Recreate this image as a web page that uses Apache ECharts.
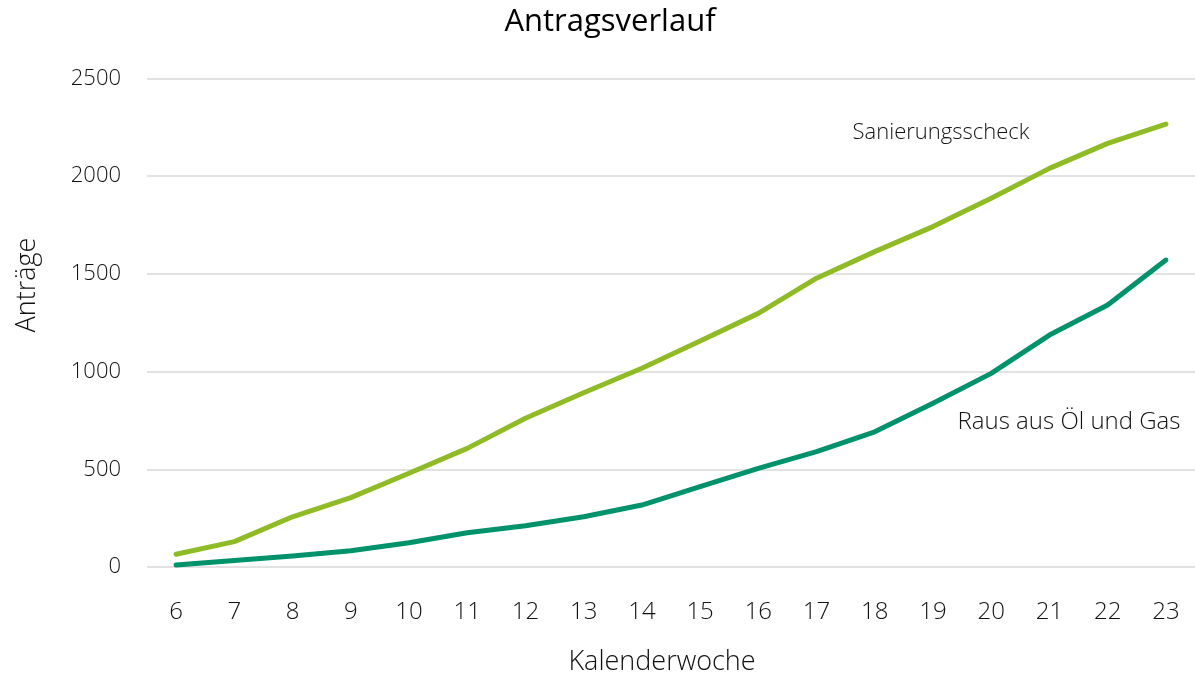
<!DOCTYPE html>
<html>
<head>
<meta charset="utf-8">
<title>Antragsverlauf</title>
<script src="https://cdn.jsdelivr.net/npm/echarts@6/dist/echarts.min.js"></script>
<style>
  html, body { margin: 0; padding: 0; background: #fff; overflow: hidden; }
  #chart { width: 1195px; height: 677px; }
</style>
</head>
<body>
<div id="chart"></div>
<script>
// Kalenderwochen
const weeks = ['6', '7', '8', '9', '10', '11', '12', '13', '14', '15', '16', '17', '18', '19', '20', '21', '22', '23'];
// kumulierte Anträge
const sanierungsscheck = [65, 130, 257, 355, 480, 607, 761, 892, 1017, 1157, 1298, 1478, 1614, 1742, 1887, 2040, 2168, 2267];
const rausAusOelUndGas = [10, 33, 56, 83, 124, 175, 211, 257, 317, 411, 505, 590, 692, 838, 991, 1187, 1341, 1571];
const yTicks = [0, 500, 1000, 1500, 2000, 2500];

const FONT = '"Open Sans", "Noto Sans", sans-serif';
const LIGHT_GREEN = '#8fbc26';
const DARK_GREEN = '#00926a';
const TEXT = '#111';

const chart = echarts.init(document.getElementById('chart'));

const option = {
  backgroundColor: '#ffffff',
  animation: false,
  title: {
    text: 'Antragsverlauf',
    left: 605,
    top: 2,
    textAlign: 'center',
    textStyle: {
      fontFamily: FONT,
      fontSize: 31,
      fontWeight: 'normal',
      color: '#000',
    },
  },
  grid: {
    left: 147,
    right: 0,
    top: 78.5,
    height: 488.5,
  },
  xAxis: {
    type: 'category',
    data: weeks,
    boundaryGap: true,
    axisLine: { show: false },
    axisTick: { show: false },
    axisLabel: {
      margin: 33,
      fontFamily: FONT,
      fontSize: 24,
      fontWeight: 300,
      color: TEXT,
      interval: 0,
    },
    splitLine: { show: false },
  },
  yAxis: {
    type: 'value',
    min: yTicks[0],
    max: yTicks[yTicks.length - 1],
    interval: 500,
    axisLine: { show: false },
    axisTick: { show: false },
    axisLabel: {
      margin: 26,
      fontFamily: FONT,
      fontSize: 22,
      fontWeight: 300,
      color: TEXT,
      formatter: (v) => String(v),
    },
    splitLine: { lineStyle: { color: '#d9d9d9', width: 1.5 } },
  },
  series: [
    {
      name: 'Sanierungsscheck',
      type: 'line',
      data: sanierungsscheck,
      showSymbol: false,
      lineStyle: { color: LIGHT_GREEN, width: 5, cap: 'round', join: 'round' },
      itemStyle: { color: LIGHT_GREEN },
    },
    {
      name: 'Raus aus Öl und Gas',
      type: 'line',
      data: rausAusOelUndGas,
      showSymbol: false,
      lineStyle: { color: DARK_GREEN, width: 5, cap: 'round', join: 'round' },
      itemStyle: { color: DARK_GREEN },
    },
  ],
  graphic: [
    {
      type: 'text',
      x: 27,
      y: 285,
      rotation: Math.PI / 2,
      style: {
        text: 'Anträge',
        font: '300 27px ' + FONT,
        fill: TEXT,
        align: 'center',
        verticalAlign: 'middle',
      },
    },
    {
      type: 'text',
      x: 662,
      y: 662,
      style: {
        text: 'Kalenderwoche',
        font: '300 27px ' + FONT,
        fill: TEXT,
        align: 'center',
        verticalAlign: 'middle',
      },
    },
    {
      type: 'text',
      x: 941,
      y: 133,
      style: {
        text: 'Sanierungsscheck',
        font: '300 22px ' + FONT,
        fill: TEXT,
        align: 'center',
        verticalAlign: 'middle',
      },
    },
    {
      type: 'text',
      x: 1069,
      y: 422,
      style: {
        text: 'Raus aus Öl und Gas',
        font: '300 24px ' + FONT,
        fill: TEXT,
        align: 'center',
        verticalAlign: 'middle',
      },
    },
  ],
};

chart.setOption(option);
window.addEventListener('resize', () => chart.resize());
</script>
</body>
</html>
